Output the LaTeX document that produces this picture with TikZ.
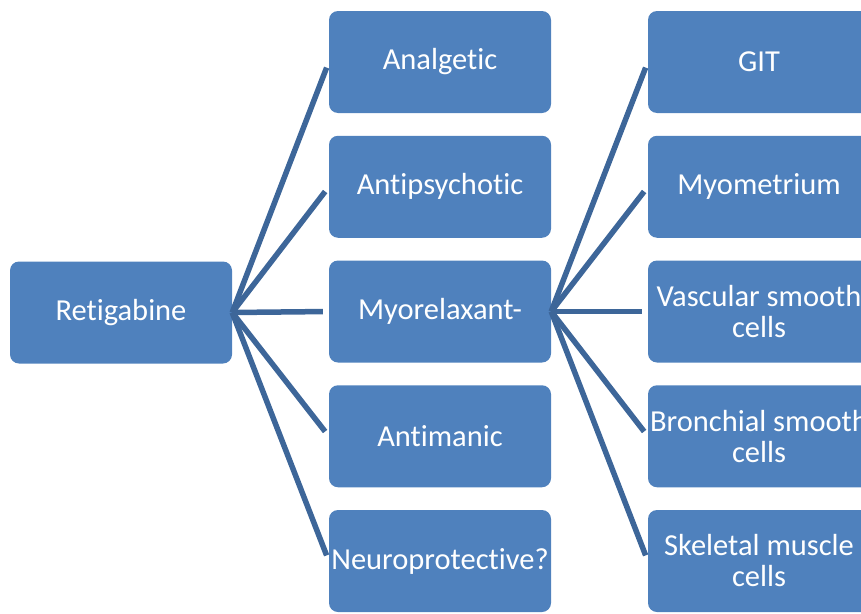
\documentclass[tikz,border=0pt]{standalone}
\usepackage{fontspec}
\setmainfont[Ligatures=NoCommon]{Carlito}
\usetikzlibrary{positioning}
\definecolor{boxblue}{HTML}{4F81BD}
\definecolor{linkblue}{HTML}{3D6699}
\begin{document}
\begin{tikzpicture}[x=1pt,y=-1pt,line cap=butt,line join=miter,
	box/.style={fill=boxblue,rounded corners=9pt,minimum width=222pt,minimum height=102pt,
		inner sep=1pt,text=white,align=center,font=\fontsize{30.5}{31}\selectfont},
	link/.style={draw=linkblue,line width=5.5pt,shorten >=6pt}]
	\useasboundingbox (0,0) rectangle (861,613);
	\clip (0,0) rectangle (861,613);
	\node[box] (ret) at (121,312.5) {Retigabine};
	% first level
	\foreach \name/\txt [count=\i from 0] in {ana/Analgetic, antp/Antipsychotic, myo/Myorelaxant-, antm/Antimanic, neu/Neuroprotective?}{
		\node[box] (\name) at (440,62+124.75*\i) {\txt};
		\draw[link] (ret.east) -- (\name.west);
	}
	% second level
	\foreach \name/\txt [count=\i from 0] in {git/GIT, mym/Myometrium, vas/{Vascular smooth\\cells}, bro/{Bronchial smooth\\cells}, ske/{Skeletal muscle\\cells}}{
		\node[box] (\name) at (759,62+124.75*\i) {\txt};
		\draw[link] (myo.east) -- (\name.west);
	}
\end{tikzpicture}
\end{document}
